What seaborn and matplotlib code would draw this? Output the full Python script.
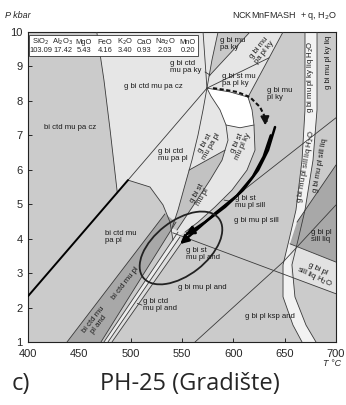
import matplotlib
matplotlib.use("Agg")
import matplotlib.pyplot as plt
import seaborn as sns
import pandas as pd
from matplotlib.patches import Ellipse
from matplotlib.transforms import IdentityTransform

sns.set_style("white")
plt.rcParams['font.family'] = ['Liberation Sans', 'DejaVu Sans']

# ---------------- data (T in °C, P in kbar) ----------------
x_ticks = [400, 450, 500, 550, 600, 650, 700]
y_ticks = [1, 2, 3, 4, 5, 6, 7, 8, 9, 10]

oxides = ["SiO$_2$", "Al$_2$O$_3$", "MgO", "FeO", "K$_2$O", "CaO", "Na$_2$O", "MnO"]
oxide_values = ["103.09", "17.42", "5.43", "4.16", "3.40", "0.93", "2.03", "0.20"]

line_A_T = [467, 474, 480, 487]
line_A_P = [10, 8.6, 7.15, 5.33]
thick_B_T = [400, 497.4]
thick_B_P = [2.33, 5.70]
line_C_T = [497.4, 574.3]
line_C_P = [5.70, 8.37]
line_D1_T = [570.5, 572.4, 574.3]
line_D1_P = [10, 9.19, 8.37]
line_D2_T = [585.1, 579.2, 574.3]
line_D2_P = [10, 9.19, 8.37]
line_E1_T = [576.3, 616.2]
line_E1_P = [8.72, 10]
line_G_T = [574.3, 634.8]
line_G_P = [8.37, 9.25]
line_F_T = [648.4, 614.3]
line_F_P = [10, 8.11]
white_top_T = [574.3, 596.7, 614.3]
white_top_P = [8.37, 8.26, 8.11]
white_bot_T = [592.9, 606.5, 620.1]
white_bot_P = [7.30, 7.22, 7.30]
curve_c1_T = [574.3, 570.5, 565.6, 559.7, 552.9, 546.1, 540.3]
curve_c1_P = [8.37, 7.74, 7.01, 6.28, 5.56, 4.83, 4.31]
curve_c2_T = [574.3, 578.2, 587.0, 592.9, 594.8, 589.0, 577.3, 564.6, 552.9, 545.1]
curve_c2_P = [8.37, 8.14, 7.74, 7.30, 6.86, 6.28, 5.70, 5.12, 4.60, 4.25]
curve_c3_T = [614.3, 618.2, 620.1, 621.1, 613.3, 598.7, 582.1, 565.6, 552.9]
curve_c3_P = [8.11, 7.74, 7.30, 6.57, 5.99, 5.41, 4.92, 4.48, 4.19]
pa_out_T = [556.8, 591.9]
pa_out_P = [5.99, 6.57]
dome_T = [497.4, 518.8, 531.5, 538.3, 541.2]
dome_P = [5.70, 5.50, 4.98, 4.48, 3.96]
strip_left_T = [438, 533.4]
strip_left_P = [1.0, 4.72]
strip_right_T = [471.1, 544.2]
strip_right_P = [1.0, 4.48]
thin1_T = [474, 546.1]
thin1_P = [1.0, 4.19]
thin2_T = [477.9, 548]
thin2_P = [1.0, 4.05]
thin3_T = [481.8, 550]
thin3_P = [1.0, 3.90]
ky_sill_T = [579.2, 700]
ky_sill_P = [4.69, 7.51]
mu_out_T = [541, 700]
mu_out_P = [4.17, 2.40]
and_sill_T = [562.7, 648.4, 700]
and_sill_P = [1.0, 3.32, 4.98]
liq_T = [662, 700]
liq_P = [4.48, 6.14]
h2o_out_T = [655.2, 700]
h2o_out_P = [3.85, 3.32]
solidus_L_T = [669.8, 669.8, 666.9, 661.0, 654.2, 648.4, 648.4, 658.1, 666.9]
solidus_L_P = [10, 7.74, 6.28, 4.83, 3.96, 3.24, 2.31, 1.49, 1.0]
solidus_R_T = [681.5, 681.5, 677.6, 669.8, 663.0, 657.1, 660.0, 670.8, 680.5]
solidus_R_P = [10, 7.74, 6.28, 4.83, 3.96, 3.24, 2.31, 1.49, 1.0]

# P-T path
dash_T = [580.2, 591.9, 603.6, 616.2, 626.0, 630.8, 632.8]
dash_P = [8.37, 8.32, 8.26, 8.11, 7.82, 7.53, 7.39]
path1_T = [640.6, 633.8, 624.1, 609.4, 591.9, 572.4, 557.8, 551.0]
path1_P = [7.24, 6.57, 5.99, 5.41, 4.92, 4.48, 4.19, 4.08]
path2_T = [636.5, 629.5, 619.0, 603.5, 583.0, 563.5, 546.1]
path2_P = [7.00, 6.38, 5.80, 5.25, 4.75, 4.24, 3.79]
peak_T, peak_P = 549, 3.73

labels = [
    ("bi ctd mu pa cz", 440.9, 7.24, 0, "center"),
    ("g bi ctd mu pa cz", 521.8, 8.43, 0, "center"),
    ("g bi ctd\nmu pa ky", 538.3, 8.98, 0, "left"),
    ("g bi mu\npa ky", 587.0, 9.65, 0, "left"),
    ("g bi mu\npa pl ky", 627.9, 9.48, 52, "center"),
    ("g bi st mu\npa pl ky", 589.0, 8.61, 0, "left"),
    ("g bi mu\npl ky", 632.8, 8.20, 0, "left"),
    ("g bi mu pl ky liq H$_2$O", 675.2, 8.69, 90, "center"),
    ("g bi mu pl ky liq", 692.5, 9.13, 90, "center"),
    ("g bi ctd\nmu pa pl", 526.6, 6.43, 0, "left"),
    ("g bi st\nmu pa pl", 575.3, 6.72, 60, "center"),
    ("g bi st\nmu pl ky", 606.5, 6.72, 65, "center"),
    ("g bi st\nmu pl", 567.5, 5.27, 60, "center"),
    ("g bi st\nmu pl sill", 601.6, 5.06, 0, "left"),
    ("g bi mu pl sill", 622.1, 4.54, 0, "center"),
    ("g bi mu pl sill liq H$_2$O", 670.3, 6.08, 80, "center"),
    ("g bi mu pl sill liq", 685.0, 6.14, 80, "center"),
    ("g bi pl\nsill liq", 685.4, 4.08, 0, "center"),
    ("g bi pl\nsill liq H$_2$O", 680.5, 2.97, -25, "center"),
    ("g bi st\nmu pl and", 553.9, 3.56, 0, "left"),
    ("g bi mu pl and", 569.5, 2.57, 0, "center"),
    ("g bi pl ksp and", 635.7, 1.73, 0, "center"),
    ("bi ctd mu\npa pl", 475.0, 4.05, 0, "left"),
    ("bi ctd mu pl", 494.5, 2.71, 52, "center"),
    ("bi ctd mu\npl and", 466.2, 1.58, 52, "center"),
    ("g bi ctd\nmu pl and", 512.0, 2.07, 0, "left"),
]

# ---------------- figure ----------------
W, H = 346, 405
fig = plt.figure(figsize=(W / 100, H / 100), dpi=100)
fig.patch.set_facecolor("white")
ax = fig.add_axes([28 / W, 1 - 342 / H, 308 / W, 310 / H])
ax.set_xlim(400, 700)
ax.set_ylim(1, 10)
ax.set_facecolor("#cbcbcb")

LIGHT = "#e6e6e6"
MID = "#c9c9c9"
DARK = "#a8a8a8"

# light fields (upper-middle)
poly_T = (line_A_T + [497.4] + dome_T[1:] + curve_c3_T[::-1] + line_F_T[::-1])
poly_P = (line_A_P + [5.70] + dome_P[1:] + curve_c3_P[::-1] + line_F_P[::-1])
ax.fill(poly_T, poly_P, color=LIGHT, lw=0, zorder=1)
# grey wedge g bi mu pa ky
ax.fill(line_D2_T[:2] + line_E1_T, line_D2_P[:2] + line_E1_P, color=MID, lw=0, zorder=1)
# white field
wT = white_top_T + curve_c3_T[1:3] + white_bot_T[::-1] + curve_c2_T[3:0:-1]
wP = white_top_P + curve_c3_P[1:3] + white_bot_P[::-1] + curve_c2_P[3:0:-1]
ax.fill(wT, wP, color="white", lw=0, zorder=1)
# g bi st mu pl (grey strip)
sT = pa_out_T + curve_c2_T[5:] + curve_c1_T[:3:-1]
sP = pa_out_P + curve_c2_P[5:] + curve_c1_P[:3:-1]
ax.fill(sT, sP, color="#c2c2c2", lw=0, zorder=1)
# dark strip bi ctd mu pl
ax.fill(strip_left_T + strip_right_T[::-1], strip_left_P + strip_right_P[::-1],
        color=DARK, lw=0, zorder=1)
# narrow light bands next to the strip
ax.fill(thin1_T + thin2_T[::-1], thin1_P + thin2_P[::-1], color="#ececec", lw=0, zorder=1)
ax.fill(thin2_T + thin3_T[::-1], thin2_P + thin3_P[::-1], color="#dedede", lw=0, zorder=1)
# solidus light strip
ax.fill(solidus_L_T + solidus_R_T[::-1], solidus_L_P + solidus_R_P[::-1],
        color="#f2f2f2", lw=0, zorder=1)
# g bi pl sill liq (dark) and g bi pl sill liq H2O (light)
ax.fill([662, 700, 700, 655.2], [4.48, 6.14, 3.32, 3.85], color=DARK, lw=0, zorder=1)
ax.fill([655.2, 700, 700, 656.2], [3.85, 3.32, 2.40, 2.89], color="#e2e2e2", lw=0, zorder=1)

thin = dict(color="#3a3a3a", lw=0.6, zorder=3)


def draw(T, P, **kw):
    df = pd.DataFrame({"T": T, "P": P})
    sns.lineplot(data=df, x="T", y="P", sort=False, estimator=None, ax=ax,
                 legend=False, **kw)


for T, P in [(line_A_T, line_A_P), (line_C_T, line_C_P), (line_D1_T, line_D1_P),
             (line_D2_T, line_D2_P), (line_E1_T, line_E1_P), (line_G_T, line_G_P),
             (line_F_T, line_F_P), (white_top_T, white_top_P), (white_bot_T, white_bot_P),
             (curve_c1_T, curve_c1_P), (curve_c2_T, curve_c2_P), (curve_c3_T, curve_c3_P),
             (pa_out_T, pa_out_P), (dome_T, dome_P), (strip_left_T, strip_left_P),
             (strip_right_T, strip_right_P), (thin1_T, thin1_P), (thin2_T, thin2_P),
             (thin3_T, thin3_P), (ky_sill_T, ky_sill_P), (mu_out_T, mu_out_P),
             (and_sill_T, and_sill_P), (liq_T, liq_P), (h2o_out_T, h2o_out_P),
             (solidus_L_T, solidus_L_P), (solidus_R_T, solidus_R_P)]:
    draw(T, P, **thin)

draw(thick_B_T, thick_B_P, color="black", lw=1.4, zorder=3)

# leaders
draw([572.4, 577.3], [8.84, 8.75], **thin)
draw([591.0, 598.0], [5.12, 5.08], **thin)
draw([506.5, 511.0], [2.12, 2.07], **thin)

# P-T path
draw(dash_T, dash_P, color="#111111", lw=1.5, zorder=5, linestyle=(0, (2.0, 1.2)))
ax.annotate("", xy=(dash_T[-1] - 1.5, dash_P[-1] - 0.18), xytext=(dash_T[-2], dash_P[-2]),
            arrowprops=dict(arrowstyle="-|>,head_length=0.5,head_width=0.25",
                            color="#111111", lw=1.4), zorder=6)
for T, P in [(path1_T, path1_P), (path2_T, path2_P)]:
    draw(T[:-1], P[:-1], color="black", lw=1.8, zorder=5)
    ax.annotate("", xy=(T[-1], P[-1]), xytext=(T[-2], P[-2]),
                arrowprops=dict(arrowstyle="-|>,head_length=0.5,head_width=0.25",
                                color="black", lw=1.8), zorder=6)

fig.canvas.draw()
cx, cy = ax.transData.transform((peak_T, peak_P))
ax.add_patch(Ellipse((cx, cy), 96, 54, angle=38, transform=IdentityTransform(),
                     fill=False, ec="#222222", lw=1.3, zorder=5))

for text, T, P, rot, ha in labels:
    ax.text(T, P, text, fontsize=5.6, rotation=rot, ha=ha, va="center",
            rotation_mode="anchor", linespacing=1.0, color="#1a1a1a", zorder=7)

# composition box
ox_px = [41, 63, 84, 105, 125, 144, 165, 188]
ax.add_patch(plt.Rectangle(((29 - 28) / 308, 1 - (56 - 32) / 310), (198 - 29) / 308, 21 / 310,
                           transform=ax.transAxes, fc="white", ec="#333333", lw=0.6, zorder=8))
for name, val, px in zip(oxides, oxide_values, ox_px):
    xa = (px - 28) / 308
    ax.text(xa, 1 - (42 - 32) / 310, name, transform=ax.transAxes, fontsize=5.4,
            ha="center", va="center", zorder=9)
    ax.text(xa, 1 - (51 - 32) / 310, val, transform=ax.transAxes, fontsize=5.4,
            ha="center", va="center", zorder=9)

ax.set_xticks(x_ticks)
ax.set_yticks(y_ticks)
ax.set_xticklabels([str(v) for v in x_ticks])
ax.set_yticklabels([str(v) for v in y_ticks])
ax.tick_params(direction="in", length=3, width=0.7, labelsize=8,
               bottom=True, left=True, top=False, right=False)
ax.tick_params(axis="x", pad=5)
ax.tick_params(axis="y", pad=4)
ax.set_xlabel("")
ax.set_ylabel("")
for s in ax.spines.values():
    s.set_color("#222222")
    s.set_linewidth(0.8)

fig.text(5 / W, 1 - 15 / H, "P kbar", fontsize=6.5, style="italic", ha="left", va="center")
fig.text(337 / W, 1 - 16 / H, "NCKMnFMASH  + q, H$_2$O", fontsize=6.5, ha="right", va="center")
fig.text(323 / W, 1 - 364 / H, "T °C", fontsize=6.5, style="italic", ha="left", va="center")
fig.text(12 / W, 1 - 384 / H, "c)", fontsize=17, family="Open Sans", ha="left", va="center")
fig.text(100 / W, 1 - 384 / H, "PH-25 (Gradište)", fontsize=17, family="Open Sans",
         ha="left", va="center")

fig.savefig("out.png", dpi=100)
